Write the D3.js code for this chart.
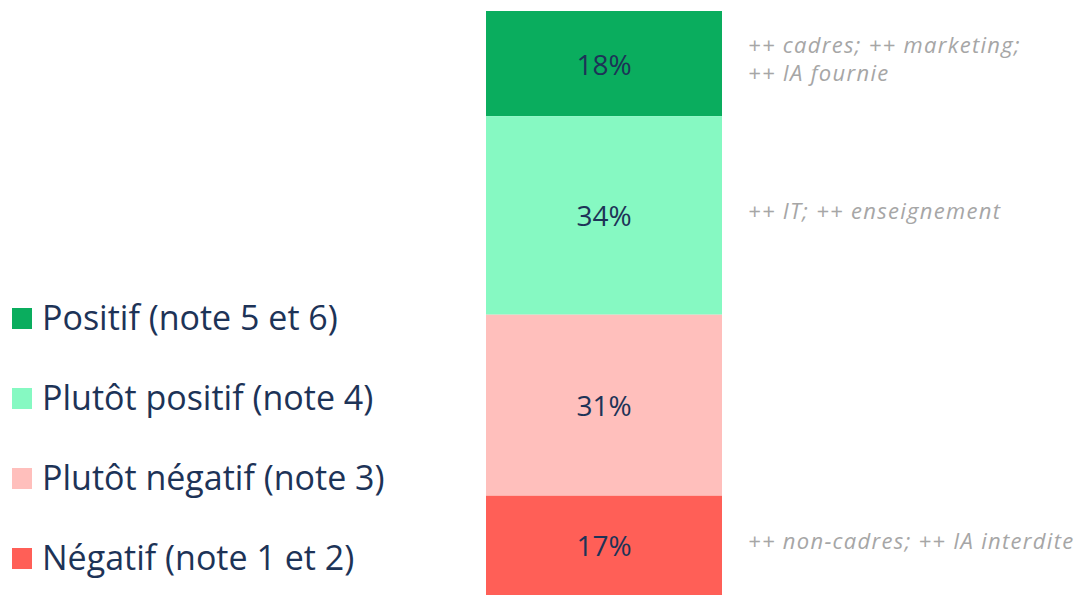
<!DOCTYPE html>
<html>
<head>
<meta charset="utf-8">
<script src="https://cdn.jsdelivr.net/npm/d3@7"></script>
<style>
  html, body { margin: 0; padding: 0; background: #ffffff; }
  svg { display: block; }
</style>
</head>
<body>
<div id="chart"></div>
<script>
// Répartition des avis (une seule barre empilée, du haut vers le bas)
const categories = [
  "Positif (note 5 et 6)",
  "Plutôt positif (note 4)",
  "Plutôt négatif (note 3)",
  "Négatif (note 1 et 2)"
];
const values = [18, 34, 31, 17];
const colors = ["#0aad5e", "#86f9c2", "#ffbfbc", "#ff5f57"];
const notes = [
  ["++ cadres; ++ marketing;", "++ IA fournie"],
  ["++ IT; ++ enseignement"],
  [],
  ["++ non-cadres; ++ IA interdite"]
];

const width = 1087, height = 596;
const svg = d3.select("#chart").append("svg")
  .attr("width", width).attr("height", height);

const total = d3.sum(values);
const y = d3.scaleLinear().domain([0, total]).range([11, 595]);
const x = d3.scaleBand().domain(["avis"]).range([486, 722]).padding(0);

// cumul depuis le haut
const cum = d3.cumsum([0, ...values]);
const segs = values.map((v, i) => ({ v, i, y0: cum[i], y1: cum[i + 1] }));

const fontMain = "'Open Sans', 'Noto Sans', sans-serif";
const navy = "#1d3357";

svg.append("g").selectAll("rect").data(segs).join("rect")
  .attr("x", x("avis"))
  .attr("width", x.bandwidth())
  .attr("y", d => y(d.y0))
  .attr("height", d => y(d.y1) - y(d.y0))
  .attr("fill", d => colors[d.i]);

svg.append("g").selectAll("text").data(segs).join("text")
  .attr("x", x("avis") + x.bandwidth() / 2)
  .attr("y", d => (y(d.y0) + y(d.y1)) / 2)
  .attr("text-anchor", "middle")
  .attr("dominant-baseline", "central")
  .attr("font-family", fontMain)
  .attr("font-size", 28)
  .attr("fill", navy)
  .text(d => d.v + "%");

// commentaires à droite de la barre (un bloc de texte par segment)
const noteG = svg.append("g");
segs.forEach(d => {
  const lines = notes[d.i];
  if (!lines.length) return;
  const lh = 28;
  const cy = d.i === 0 ? 59 : (y(d.y0) + y(d.y1)) / 2 - 4;
  const start = cy - (lines.length - 1) * lh / 2;
  const t = noteG.append("text")
    .attr("font-family", fontMain)
    .attr("font-style", "italic")
    .attr("font-size", 22)
    .attr("letter-spacing", 1.3)
    .attr("fill", "#a6a6a6");
  lines.forEach((s, k) => {
    t.append("tspan")
      .attr("x", 748)
      .attr("y", start + k * lh + 8)
      .text(s);
  });
});

// légende
const legend = svg.append("g");
const ly = d3.scalePoint().domain(categories).range([319, 559]);
categories.forEach((c, i) => {
  const g = legend.append("g").attr("transform", `translate(0,${ly(c)})`);
  g.append("rect").attr("x", 12).attr("y", -11).attr("width", 20).attr("height", 21)
    .attr("fill", colors[i]);
  g.append("text").attr("x", 42).attr("y", -2)
    .attr("dominant-baseline", "central")
    .attr("font-family", fontMain)
    .attr("font-size", 34)
    .attr("fill", navy)
    .text(c);
});
</script>
</body>
</html>
